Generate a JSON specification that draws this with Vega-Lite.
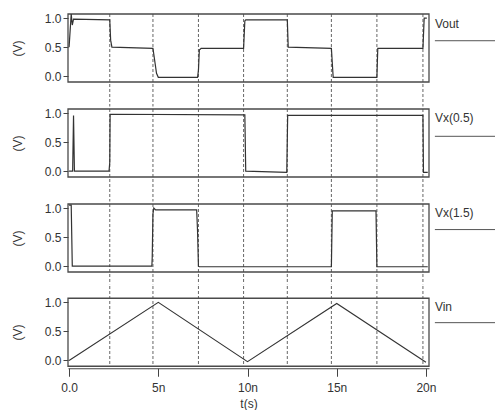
{
  "$schema": "https://vega.github.io/schema/vega-lite/v6.json",
  "padding": {"left": 11, "top": 11, "right": 0, "bottom": 0},
  "background": "white",
  "spacing": 0,
  "datasets": {
    "grid": [{"t": 2.28}, {"t": 4.7}, {"t": 7.25}, {"t": 9.78}, {"t": 12.23}, {"t": 14.7}, {"t": 17.25}, {"t": 19.83}],
    "vout": [
      {"t": 0, "v": 0.5}, {"t": 0.12, "v": 1.07}, {"t": 0.18, "v": 0.88}, {"t": 0.25, "v": 0.98},
      {"t": 2.28, "v": 0.97}, {"t": 2.33, "v": 0.62}, {"t": 2.4, "v": 0.5}, {"t": 4.7, "v": 0.48},
      {"t": 4.9, "v": 0.05}, {"t": 5.0, "v": -0.02}, {"t": 7.2, "v": -0.02}, {"t": 7.25, "v": 0.1},
      {"t": 7.3, "v": 0.45}, {"t": 7.4, "v": 0.48}, {"t": 9.78, "v": 0.48}, {"t": 9.85, "v": 0.95},
      {"t": 9.9, "v": 0.97}, {"t": 12.23, "v": 0.97}, {"t": 12.28, "v": 0.5}, {"t": 14.7, "v": 0.48},
      {"t": 14.8, "v": -0.02}, {"t": 17.25, "v": -0.02}, {"t": 17.3, "v": 0.48}, {"t": 19.83, "v": 0.48},
      {"t": 19.9, "v": 1.0}, {"t": 20.05, "v": 1.0}
    ],
    "vx05": [
      {"t": 0, "v": 0.0}, {"t": 0.2, "v": 0.0}, {"t": 0.25, "v": 0.96}, {"t": 0.3, "v": 0.0},
      {"t": 2.24, "v": 0.0}, {"t": 2.28, "v": 0.15}, {"t": 2.3, "v": 0.98}, {"t": 9.85, "v": 0.97},
      {"t": 9.9, "v": 0.0}, {"t": 12.2, "v": -0.02}, {"t": 12.25, "v": 0.96}, {"t": 19.83, "v": 0.96},
      {"t": 19.86, "v": -0.02}, {"t": 20.1, "v": -0.02}
    ],
    "vx15": [
      {"t": 0, "v": 1.05}, {"t": 0.12, "v": 1.05}, {"t": 0.18, "v": 0.0}, {"t": 4.64, "v": 0.0},
      {"t": 4.66, "v": 0.15}, {"t": 4.7, "v": 0.9}, {"t": 4.75, "v": 1.0}, {"t": 4.85, "v": 0.97},
      {"t": 7.15, "v": 0.97}, {"t": 7.2, "v": 0.6}, {"t": 7.25, "v": 0.0}, {"t": 7.3, "v": -0.01},
      {"t": 14.7, "v": -0.01}, {"t": 14.75, "v": 0.95}, {"t": 17.2, "v": 0.95}, {"t": 17.25, "v": -0.01},
      {"t": 20.1, "v": -0.01}
    ],
    "vin": [
      {"t": 0, "v": 0.0}, {"t": 5, "v": 1.0}, {"t": 10, "v": -0.02}, {"t": 15, "v": 0.98}, {"t": 20, "v": -0.03}
    ]
  },
  "vconcat": [
    {
      "width": 361, "height": 92.5,
      "layer": [
        {"data": {"name": "grid"}, "mark": {"type": "rule", "strokeDash": [3, 2], "color": "#555", "strokeWidth": 0.9},
         "encoding": {"x": {"field": "t", "type": "quantitative", "scale": {"domain": [-0.06, 20.17]}, "axis": null}}},
        {"data": {"values": [{}]}, "mark": {"type": "rect", "filled": false, "color": "#4a4a4a", "strokeWidth": 1.3},
         "encoding": {"x": {"datum": -0.06, "type": "quantitative", "scale": {"domain": [-0.06, 20.17]}, "axis": null}, "x2": {"datum": 20.17},
                      "y": {"datum": -0.1, "type": "quantitative", "scale": {"domain": [-0.522, 1.07]}}, "y2": {"datum": 1.07}}},
        {"data": {"name": "vout"}, "mark": {"type": "line", "color": "#333", "strokeWidth": 1.2},
         "encoding": {"x": {"field": "t", "type": "quantitative", "scale": {"domain": [-0.06, 20.17]}, "axis": null},
                      "y": {"field": "v", "type": "quantitative", "scale": {"domain": [-0.522, 1.07]},
                            "axis": {"values": [0, 0.5, 1], "format": ".1f", "title": "(V)", "titleY": 34}}}},
        {"data": {"values": [{"label": "Vout"}]}, "mark": {"type": "text", "align": "left", "baseline": "middle", "fontSize": 12, "color": "#333", "font": "Liberation Sans"},
         "encoding": {"x": {"datum": 20.5, "type": "quantitative", "scale": {"domain": [-0.06, 20.17]}, "axis": null},
                      "y": {"datum": 0.9, "type": "quantitative", "scale": {"domain": [-0.522, 1.07]}}, "text": {"field": "label"}}},
        {"data": {"values": [{}]}, "mark": {"type": "rule", "color": "#555", "strokeWidth": 1},
         "encoding": {"x": {"datum": 20.5, "type": "quantitative", "scale": {"domain": [-0.06, 20.17]}, "axis": null}, "x2": {"datum": 24},
                      "y": {"datum": 0.61, "type": "quantitative", "scale": {"domain": [-0.522, 1.07]}}}}
      ]
    },
    {
      "width": 361, "height": 92.5,
      "layer": [
        {"data": {"name": "grid"}, "mark": {"type": "rule", "strokeDash": [3, 2], "color": "#555", "strokeWidth": 0.9},
         "encoding": {"x": {"field": "t", "type": "quantitative", "scale": {"domain": [-0.06, 20.17]}, "axis": null}}},
        {"data": {"values": [{}]}, "mark": {"type": "rect", "filled": false, "color": "#4a4a4a", "strokeWidth": 1.3},
         "encoding": {"x": {"datum": -0.06, "type": "quantitative", "scale": {"domain": [-0.06, 20.17]}, "axis": null}, "x2": {"datum": 20.17},
                      "y": {"datum": -0.1, "type": "quantitative", "scale": {"domain": [-0.522, 1.07]}}, "y2": {"datum": 1.07}}},
        {"data": {"name": "vx05"}, "mark": {"type": "line", "color": "#333", "strokeWidth": 1.2},
         "encoding": {"x": {"field": "t", "type": "quantitative", "scale": {"domain": [-0.06, 20.17]}, "axis": null},
                      "y": {"field": "v", "type": "quantitative", "scale": {"domain": [-0.522, 1.07]},
                            "axis": {"values": [0, 0.5, 1], "format": ".1f", "title": "(V)", "titleY": 34}}}},
        {"data": {"values": [{"label": "Vx(0.5)"}]}, "mark": {"type": "text", "align": "left", "baseline": "middle", "fontSize": 12, "color": "#333", "font": "Liberation Sans"},
         "encoding": {"x": {"datum": 20.5, "type": "quantitative", "scale": {"domain": [-0.06, 20.17]}, "axis": null},
                      "y": {"datum": 0.91, "type": "quantitative", "scale": {"domain": [-0.522, 1.07]}}, "text": {"field": "label"}}},
        {"data": {"values": [{}]}, "mark": {"type": "rule", "color": "#555", "strokeWidth": 1},
         "encoding": {"x": {"datum": 20.5, "type": "quantitative", "scale": {"domain": [-0.06, 20.17]}, "axis": null}, "x2": {"datum": 24},
                      "y": {"datum": 0.6, "type": "quantitative", "scale": {"domain": [-0.522, 1.07]}}}}
      ]
    },
    {
      "width": 361, "height": 80.25,
      "layer": [
        {"data": {"name": "grid"}, "mark": {"type": "rule", "strokeDash": [3, 2], "color": "#555", "strokeWidth": 0.9},
         "encoding": {"x": {"field": "t", "type": "quantitative", "scale": {"domain": [-0.06, 20.17]}, "axis": null}}},
        {"data": {"values": [{}]}, "mark": {"type": "rect", "filled": false, "color": "#4a4a4a", "strokeWidth": 1.3},
         "encoding": {"x": {"datum": -0.06, "type": "quantitative", "scale": {"domain": [-0.06, 20.17]}, "axis": null}, "x2": {"datum": 20.17},
                      "y": {"datum": -0.1, "type": "quantitative", "scale": {"domain": [-0.311, 1.07]}}, "y2": {"datum": 1.07}}},
        {"data": {"name": "vx15"}, "mark": {"type": "line", "color": "#333", "strokeWidth": 1.2},
         "encoding": {"x": {"field": "t", "type": "quantitative", "scale": {"domain": [-0.06, 20.17]}, "axis": null},
                      "y": {"field": "v", "type": "quantitative", "scale": {"domain": [-0.311, 1.07]},
                            "axis": {"values": [0, 0.5, 1], "format": ".1f", "title": "(V)", "titleY": 34}}}},
        {"data": {"values": [{"label": "Vx(1.5)"}]}, "mark": {"type": "text", "align": "left", "baseline": "middle", "fontSize": 12, "color": "#333", "font": "Liberation Sans"},
         "encoding": {"x": {"datum": 20.5, "type": "quantitative", "scale": {"domain": [-0.06, 20.17]}, "axis": null},
                      "y": {"datum": 0.91, "type": "quantitative", "scale": {"domain": [-0.311, 1.07]}}, "text": {"field": "label"}}},
        {"data": {"values": [{}]}, "mark": {"type": "rule", "color": "#555", "strokeWidth": 1},
         "encoding": {"x": {"datum": 20.5, "type": "quantitative", "scale": {"domain": [-0.06, 20.17]}, "axis": null}, "x2": {"datum": 24},
                      "y": {"datum": 0.63, "type": "quantitative", "scale": {"domain": [-0.311, 1.07]}}}}
      ]
    },
    {
      "width": 361, "height": 80.25,
      "layer": [
        {"data": {"name": "grid"}, "mark": {"type": "rule", "strokeDash": [3, 2], "color": "#555", "strokeWidth": 0.9},
         "encoding": {"x": {"field": "t", "type": "quantitative", "scale": {"domain": [-0.06, 20.17]}}}},
        {"data": {"values": [{}]}, "mark": {"type": "rect", "filled": false, "color": "#4a4a4a", "strokeWidth": 1.3},
         "encoding": {"x": {"datum": -0.06, "type": "quantitative", "scale": {"domain": [-0.06, 20.17]}}, "x2": {"datum": 20.17},
                      "y": {"datum": -0.1, "type": "quantitative", "scale": {"domain": [-0.1, 1.281]}}, "y2": {"datum": 1.07}}},
        {"data": {"name": "vin"}, "mark": {"type": "line", "color": "#333", "strokeWidth": 1.1},
         "encoding": {"x": {"field": "t", "type": "quantitative", "scale": {"domain": [-0.06, 20.17]},
                            "axis": {"values": [0, 5, 10, 15, 20], "labelExpr": "datum.value == 0 ? '0.0' : datum.value + 'n'", "title": "t(s)",
                                     "tickSize": 8, "offset": 2, "domain": true, "labelPadding": 6, "titlePadding": 5}},
                      "y": {"field": "v", "type": "quantitative", "scale": {"domain": [-0.1, 1.281]},
                            "axis": {"values": [0, 0.5, 1], "format": ".1f", "title": "(V)", "titleY": 46}}}},
        {"data": {"values": [{"label": "Vin"}]}, "mark": {"type": "text", "align": "left", "baseline": "middle", "fontSize": 12, "color": "#333", "font": "Liberation Sans"},
         "encoding": {"x": {"datum": 20.5, "type": "quantitative", "scale": {"domain": [-0.06, 20.17]}},
                      "y": {"datum": 0.92, "type": "quantitative", "scale": {"domain": [-0.1, 1.281]}}, "text": {"field": "label"}}},
        {"data": {"values": [{}]}, "mark": {"type": "rule", "color": "#555", "strokeWidth": 1},
         "encoding": {"x": {"datum": 20.5, "type": "quantitative", "scale": {"domain": [-0.06, 20.17]}}, "x2": {"datum": 24},
                      "y": {"datum": 0.65, "type": "quantitative", "scale": {"domain": [-0.1, 1.281]}}}}
      ]
    }
  ],
  "config": {
    "view": {"stroke": null},
    "font": "Liberation Sans",
    "axis": {
      "grid": false, "labelFont": "Liberation Sans", "titleFont": "Liberation Sans",
      "labelFontSize": 12, "titleFontSize": 12, "titleFontWeight": "normal",
      "labelColor": "#333", "titleColor": "#333", "tickColor": "#444", "domainColor": "#444",
      "tickWidth": 1, "domainWidth": 1.2
    },
    "axisY": {"domain": false, "tickSize": 5, "labelPadding": 2, "titlePadding": 20, "labelOverlap": false, "labelFlush": false}
  }
}
